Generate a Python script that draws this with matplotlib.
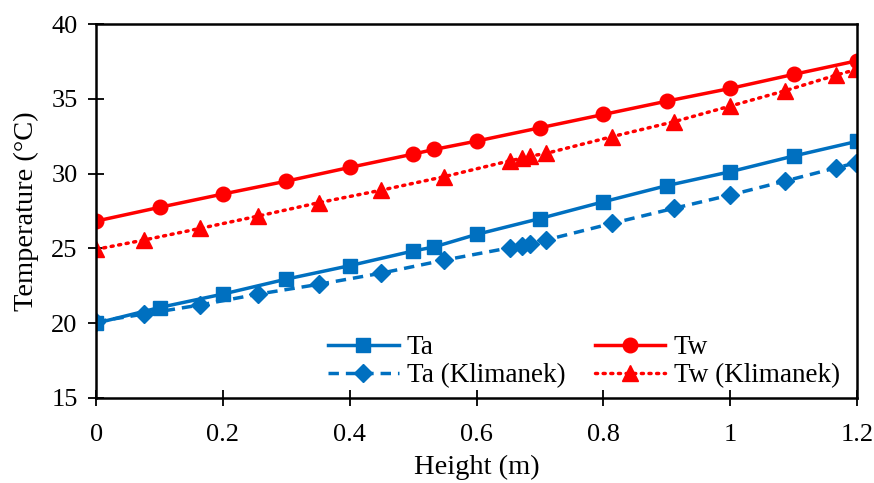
import matplotlib
matplotlib.use("Agg")
import matplotlib.pyplot as plt

plt.rcParams['font.family'] = ['Liberation Serif', 'DejaVu Serif']

x_model = [0, 0.1, 0.2, 0.3, 0.4, 0.5, 0.533, 0.6, 0.7, 0.8, 0.9, 1.0, 1.1, 1.2]
ta_model = [20.0, 21.05, 21.95, 22.95, 23.85, 24.83, 25.1, 25.94, 27.0, 28.12, 29.2, 30.13, 31.18, 32.16]
tw_model = [26.83, 27.75, 28.64, 29.5, 30.42, 31.31, 31.62, 32.18, 33.07, 33.96, 34.85, 35.7, 36.64, 37.55]

x_klim = [0, 0.075, 0.164, 0.256, 0.351, 0.45, 0.549, 0.653, 0.671, 0.685, 0.709,
          0.813, 0.911, 1.0, 1.086, 1.167, 1.199]
ta_klim = [20.1, 20.61, 21.22, 21.95, 22.6, 23.35, 24.22, 25.05, 25.16, 25.29, 25.56,
           26.67, 27.68, 28.57, 29.5, 30.39, 30.73]
tw_klim = [24.94, 25.56, 26.34, 27.17, 28.06, 28.9, 29.8, 30.87, 31.02, 31.18, 31.35,
           32.47, 33.47, 34.52, 35.54, 36.59, 36.97]

x_ticks = [0, 0.2, 0.4, 0.6, 0.8, 1.0, 1.2]
x_ticklabels = ['0', '0.2', '0.4', '0.6', '0.8', '1', '1.2']
y_ticks = [15, 20, 25, 30, 35, 40]

blue = '#0070C0'
red = '#FF0000'

fig = plt.figure(figsize=(8.74, 4.83), dpi=100)
ax = fig.add_axes([0.11, 0.176, 0.8705, 0.774])

h_ta, = ax.plot(x_model, ta_model, color=blue, lw=2.5, marker='s', ms=9.5, label='Ta')
h_tw, = ax.plot(x_model, tw_model, color=red, lw=2.5, marker='o', ms=10.5, label='Tw')
h_tak, = ax.plot(x_klim, ta_klim, color=blue, lw=2.5, ls=(0, (3, 2)), marker='D', ms=9,
                 label='Ta (Klimanek)')
h_twk, = ax.plot(x_klim, tw_klim, color=red, lw=2.5, ls=(0, (0.6, 1.6)), dash_capstyle='round',
                 marker='^', ms=11, label='Tw (Klimanek)')

ax.set_xlim(0, 1.2)
ax.set_ylim(15, 40)
ax.set_xticks(x_ticks)
ax.set_xticklabels(x_ticklabels)
ax.set_yticks(y_ticks)
ax.tick_params(direction='inout', length=11.5, width=1.3, labelsize=19, colors='black')
ax.tick_params(axis='x', pad=13)
ax.tick_params(axis='y', pad=7.5)
for s in ax.spines.values():
    s.set_linewidth(1.8)
    s.set_color('black')

ax.set_xlabel('Height (m)', fontsize=20.5, labelpad=6)
ax.set_ylabel('Temperature (°C)', fontsize=20.5, labelpad=9)

ax.legend([h_ta, h_tak, h_tw, h_twk],
          ['Ta', 'Ta (Klimanek)', 'Tw', 'Tw (Klimanek)'],
          ncol=2, frameon=False, fontsize=19.5, loc='lower right',
          bbox_to_anchor=(0.9934, -0.007), handlelength=2.6, columnspacing=1.1,
          handletextpad=0.3, labelspacing=0.12, borderaxespad=0.05)

fig.savefig('out.png', dpi=100)
